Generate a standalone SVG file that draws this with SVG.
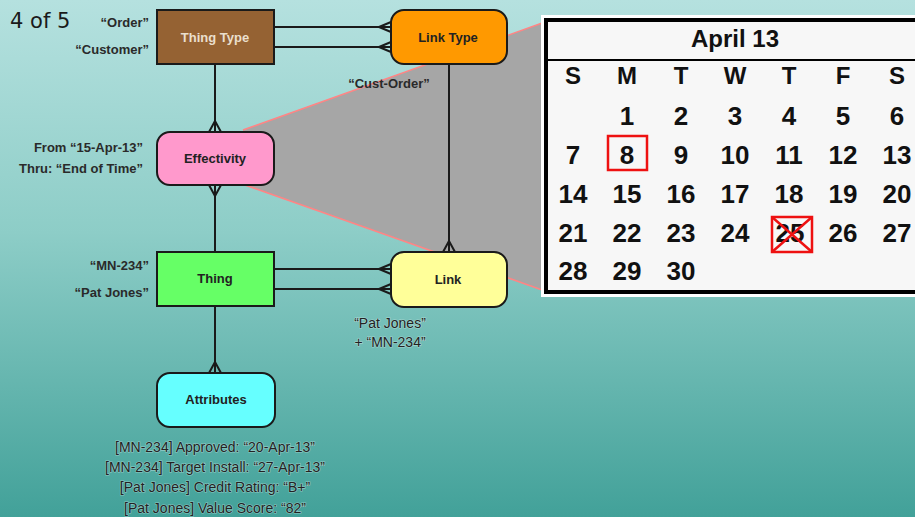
<svg xmlns="http://www.w3.org/2000/svg" width="915" height="517" viewBox="0 0 915 517">
  <defs>
    <linearGradient id="bg" x1="0" y1="0" x2="0" y2="1">
      <stop offset="0" stop-color="#b5e1df"/>
      <stop offset="0.45" stop-color="#8dcdc7"/>
      <stop offset="1" stop-color="#42a199"/>
    </linearGradient>
  </defs>
  <style>
    .box { stroke: #1a1a1a; stroke-width: 2; }
    .lbl { font-family: "Liberation Sans", Arial, sans-serif; font-weight: bold; font-size: 13px; fill: #222; text-anchor: middle; }
    .side { font-family: "Liberation Sans", Arial, sans-serif; font-weight: bold; font-size: 13px; fill: #2a2a2a; }
    .note { font-family: "Liberation Sans", Arial, sans-serif; font-size: 14px; fill: #222; text-anchor: middle; stroke: #e6f4f2; stroke-width: 1.2; stroke-opacity: 0.45; paint-order: stroke; }
    .conn line, .conn path { stroke: #1a1a1a; stroke-width: 2; fill: none; }
    .cal { font-family: "Liberation Sans", Arial, sans-serif; font-weight: bold; fill: #111; text-anchor: middle; }
    .hd { font-size: 24px; }
    .num { font-size: 26px; }
    .mark { fill: none; stroke: #ee1111; stroke-width: 2.5; }
  </style>

  <!-- background -->
  <rect x="0" y="0" width="915" height="517" fill="url(#bg)"/>

  <!-- page counter -->
  <text x="10" y="28" font-family="DejaVu Sans, sans-serif" font-size="21" fill="#1a1a1a">4 of 5</text>

  <!-- zoom fan from Effectivity to the calendar -->
  <g id="zoom-fan">
    <polygon points="243,130 545,22 545,291 245,185" fill="#a6a6a6"/>
    <line x1="243" y1="130" x2="545" y2="22" stroke="#ff8585" stroke-width="1.6"/>
    <line x1="245" y1="185" x2="545" y2="291" stroke="#ff8585" stroke-width="1.6"/>
  </g>

  <!-- connectors -->
  <g id="connectors" class="conn">
    <!-- Thing Type to Link Type -->
    <line x1="274" y1="27" x2="391" y2="27"/>
    <path d="M379,27 L391,22 M379,27 L391,32"/>
    <line x1="274" y1="47" x2="391" y2="47"/>
    <path d="M379,47 L391,42 M379,47 L391,52"/>
    <!-- Thing Type to Effectivity -->
    <line x1="215" y1="64" x2="215" y2="132"/>
    <path d="M215,121 L209,132 M215,121 L221,132"/>
    <!-- Effectivity to Thing -->
    <line x1="215" y1="185" x2="215" y2="252"/>
    <path d="M215,196 L209,185 M215,196 L221,185"/>
    <!-- Link Type to Link -->
    <line x1="449" y1="64" x2="449" y2="252"/>
    <path d="M449,241 L443,252 M449,241 L455,252"/>
    <!-- Thing to Link -->
    <line x1="274" y1="269" x2="391" y2="269"/>
    <path d="M379,269 L391,264 M379,269 L391,274"/>
    <line x1="274" y1="289" x2="391" y2="289"/>
    <path d="M379,289 L391,284 M379,289 L391,294"/>
    <!-- Thing to Attributes -->
    <line x1="215" y1="306" x2="215" y2="373"/>
    <path d="M215,362 L209,373 M215,362 L221,373"/>
  </g>

  <!-- nodes -->
  <g id="thing-type">
    <rect class="box" x="157" y="10" width="117" height="54" fill="#956233"/>
    <text class="lbl" x="215" y="41.5" style="fill:#eadfcd">Thing Type</text>
    <text class="side" x="149" y="27" text-anchor="end">“Order”</text>
    <text class="side" x="149" y="54" text-anchor="end">“Customer”</text>
  </g>

  <g id="link-type">
    <rect class="box" x="391" y="10" width="116" height="54" rx="13" fill="#ff9900"/>
    <text class="lbl" x="448" y="41.5">Link Type</text>
    <text class="side" x="389" y="88" text-anchor="middle">“Cust-Order”</text>
  </g>

  <g id="effectivity">
    <rect class="box" x="157" y="132" width="117" height="53" rx="13" fill="#ff99cc"/>
    <text class="lbl" x="215" y="163">Effectivity</text>
    <text class="side" x="143" y="152" text-anchor="end">From “15-Apr-13”</text>
    <text class="side" x="143" y="173" text-anchor="end">Thru: “End of Time”</text>
  </g>

  <g id="thing">
    <rect class="box" x="157" y="252" width="117" height="54" fill="#66ff66"/>
    <text class="lbl" x="215" y="283">Thing</text>
    <text class="side" x="149" y="270" text-anchor="end">“MN-234”</text>
    <text class="side" x="149" y="297" text-anchor="end">“Pat Jones”</text>
  </g>

  <g id="link">
    <rect class="box" x="391" y="252" width="116" height="55" rx="13" fill="#ffff99"/>
    <text class="lbl" x="448" y="283.5">Link</text>
    <text class="note" x="390" y="328">“Pat Jones”</text>
    <text class="note" x="390" y="347">+ “MN-234”</text>
  </g>

  <g id="attributes">
    <rect class="box" x="157" y="373" width="118" height="54" rx="13" fill="#66ffff"/>
    <text class="lbl" x="216" y="404">Attributes</text>
    <text class="note" x="215" y="452">[MN-234] Approved: “20-Apr-13”</text>
    <text class="note" x="215" y="472">[MN-234] Target Install: “27-Apr-13”</text>
    <text class="note" x="215" y="492">[Pat Jones] Credit Rating: “B+”</text>
    <text class="note" x="215" y="513">[Pat Jones] Value Score: “82”</text>
  </g>

  <!-- calendar -->
  <g id="calendar">
    <rect x="541" y="15" width="400" height="282" fill="#ffffff"/>
    <rect x="546" y="20" width="400" height="272" fill="#f7f7f7" stroke="#000" stroke-width="4"/>
    <line x1="548" y1="60" x2="915" y2="60" stroke="#000" stroke-width="2"/>
    <text class="cal hd" x="735" y="47">April 13</text>
    <g class="cal hd">
      <text x="573" y="84">S</text>
      <text x="627" y="84">M</text>
      <text x="681" y="84">T</text>
      <text x="735" y="84">W</text>
      <text x="789" y="84">T</text>
      <text x="843" y="84">F</text>
      <text x="897" y="84">S</text>
    </g>
    <g class="cal num">
      <text x="627" y="125">1</text>
      <text x="681" y="125">2</text>
      <text x="735" y="125">3</text>
      <text x="789" y="125">4</text>
      <text x="843" y="125">5</text>
      <text x="897" y="125">6</text>

      <text x="573" y="164">7</text>
      <text x="627" y="164">8</text>
      <text x="681" y="164">9</text>
      <text x="735" y="164">10</text>
      <text x="789" y="164">11</text>
      <text x="843" y="164">12</text>
      <text x="897" y="164">13</text>

      <text x="573" y="203">14</text>
      <text x="627" y="203">15</text>
      <text x="681" y="203">16</text>
      <text x="735" y="203">17</text>
      <text x="789" y="203">18</text>
      <text x="843" y="203">19</text>
      <text x="897" y="203">20</text>

      <text x="573" y="242">21</text>
      <text x="627" y="242">22</text>
      <text x="681" y="242">23</text>
      <text x="735" y="242">24</text>
      <text x="790" y="242">25</text>
      <text x="843" y="242">26</text>
      <text x="897" y="242">27</text>

      <text x="573" y="280">28</text>
      <text x="627" y="280">29</text>
      <text x="681" y="280">30</text>
    </g>
    <!-- start date highlight -->
    <rect class="mark" x="608" y="136" width="39" height="34"/>
    <!-- crossed-out date -->
    <rect class="mark" x="772" y="217" width="40" height="35"/>
    <path class="mark" d="M772,217 L812,252 M812,217 L772,252"/>
  </g>
</svg>
